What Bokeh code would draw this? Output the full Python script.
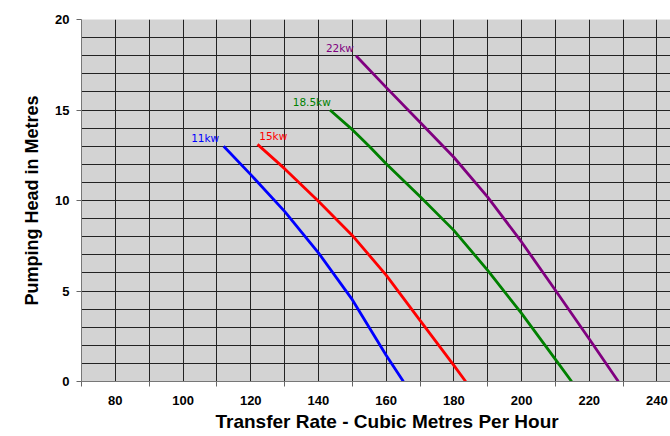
from bokeh.plotting import figure
from bokeh.models import FixedTicker, Range1d, Title
from bokeh.core.properties import value
from bokeh.embed import file_html
from bokeh.resources import INLINE

# Data
x_11 = [112, 120, 130, 140, 150, 160, 165.1]
h_11 = [13.0, 11.43, 9.4, 7.11, 4.52, 1.45, 0]
x_15 = [122, 130, 140, 150, 160, 170, 180, 183.5]
h_15 = [13.1, 11.76, 9.96, 8.07, 5.88, 3.38, 0.89, 0]
x_185 = [143.4, 149.5, 155, 160, 170, 180, 190, 200, 210, 214.8]
h_185 = [15.0, 14.0, 13.0, 12.03, 10.22, 8.35, 6.14, 3.76, 1.22, 0]
x_22 = [151.1, 160, 170, 180, 190, 200, 210, 220, 228.6]
h_22 = [18.0, 16.25, 14.32, 12.39, 10.19, 7.71, 5.04, 2.35, 0]

series_names = ["11kw", "15kw", "18.5kw", "22kw"]
series_colors = ["#0000FF", "#FF0000", "#008000", "#800080"]
label_x = [102.4, 122.5, 132.4, 142.2]
label_y = [13.48, 13.55, 15.43, 18.44]

x_tick_values = [80, 100, 120, 140, 160, 180, 200, 220, 240]
x_minor_ticks = [70, 90, 110, 130, 150, 170, 190, 210, 230]
y_tick_values = [0, 5, 10, 15, 20]
x_title = "Transfer Rate - Cubic Metres Per Hour"
y_title = "Pumping Head in Metres"

p = figure(width=670, height=436, output_backend="svg", toolbar_location=None,
           x_range=Range1d(70, 244), y_range=Range1d(0, 20))
p.min_border_left = 81
p.min_border_top = 19
p.min_border_right = 0
p.min_border_bottom = 55
p.background_fill_color = "#D3D3D3"
p.border_fill_color = "white"
p.outline_line_color = None

# grids
p.xgrid.ticker = FixedTicker(ticks=list(range(70, 250, 10)))
p.ygrid.ticker = FixedTicker(ticks=list(range(0, 21)))
for g in (p.xgrid, p.ygrid):
    g.grid_line_color = "#222222"
    g.grid_line_width = 1
    g.grid_line_alpha = 1

# x axis
xa = p.xaxis[0]
xa.ticker = FixedTicker(ticks=x_tick_values, minor_ticks=x_minor_ticks)
xa.major_tick_out = 0
xa.major_tick_in = 0
xa.minor_tick_out = 5
xa.minor_tick_in = 0
xa.minor_tick_line_color = "#666666"
xa.axis_line_color = "#777777"
xa.major_label_standoff = 9
xa.major_label_text_font = "Liberation Sans"
xa.major_label_text_font_style = "bold"
xa.major_label_text_font_size = "13px"
xa.major_label_text_color = "black"

# x title below the axis, slightly right of centre as in the original
p.add_layout(Title(text=x_title, align="left", offset=134, standoff=3,
                   text_font="Liberation Sans", text_font_style="bold",
                   text_font_size="19px", text_color="black"), "below")

# y axis
ya = p.yaxis[0]
ya.ticker = FixedTicker(ticks=y_tick_values)
ya.major_tick_out = 5
ya.major_tick_in = 0
ya.minor_tick_out = 0
ya.minor_tick_in = 0
ya.major_tick_line_color = "#666666"
ya.axis_line_color = "#777777"
ya.major_label_standoff = 7
ya.major_label_text_font = "Liberation Sans"
ya.major_label_text_font_style = "bold"
ya.major_label_text_font_size = "13px"
ya.major_label_text_color = "black"
ya.axis_label = y_title
ya.axis_label_text_font = "Liberation Sans"
ya.axis_label_text_font_style = "bold"
ya.axis_label_text_font_size = "18px"
ya.axis_label_text_color = "black"
ya.axis_label_standoff = 10

xs = [x_11, x_15, x_185, x_22]
hs = [h_11, h_15, h_185, h_22]
for xv, hv, c in zip(xs, hs, series_colors):
    p.line(xv, hv, line_color=c, line_width=2.8, line_join="round")

p.text(x=label_x, y=label_y, text=series_names, text_color=series_colors,
       text_font=value("DejaVu Sans"), text_font_size="10.5px",
       text_align="left", text_baseline="middle")

open("out.html", "w").write(file_html(p, INLINE))
